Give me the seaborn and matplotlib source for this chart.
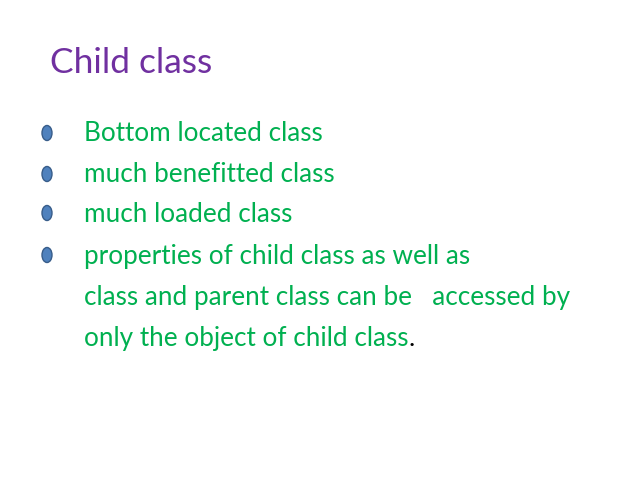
import matplotlib
matplotlib.use("Agg")
import matplotlib.pyplot as plt
from matplotlib.patches import Ellipse
import seaborn as sns

# slide content
title = "Child class"
lines = [
    "Bottom located class",
    "much benefitted class",
    "much loaded class",
    "properties of child class as well as",
    "class and parent class can be   accessed by",
    "only the object of child class",
]
baselines = [141, 182, 222, 264, 305, 346]
bullet_y = [133, 174, 213, 255]

sns.set_theme(style="white")
plt.rcParams["font.family"] = ["Lato", "DejaVu Sans"]

fig = plt.figure(figsize=(6.38, 4.79), dpi=100)
ax = fig.add_axes([0, 0, 1, 1])
ax.set_xlim(0, 638)
ax.set_ylim(479, 0)
ax.axis("off")

ax.text(50, 73, title, fontsize=25.5, color="#7030A0", va="baseline", ha="left")

for y in bullet_y:
    ax.add_patch(Ellipse((47, y), 10, 15, facecolor="#4F81BD",
                         edgecolor="#385D8A", linewidth=1))

for i, (txt, yb) in enumerate(zip(lines, baselines)):
    t = ax.text(84, yb, txt, fontsize=18.8, color="#00B050", va="baseline", ha="left")
    if i == len(lines) - 1:
        # the full stop is black on the slide
        fig.canvas.draw()
        bb = t.get_window_extent().transformed(ax.transData.inverted())
        ax.text(bb.x1, yb, ".", fontsize=18.8, color="black", va="baseline", ha="left")

fig.savefig("out.png", dpi=100)
